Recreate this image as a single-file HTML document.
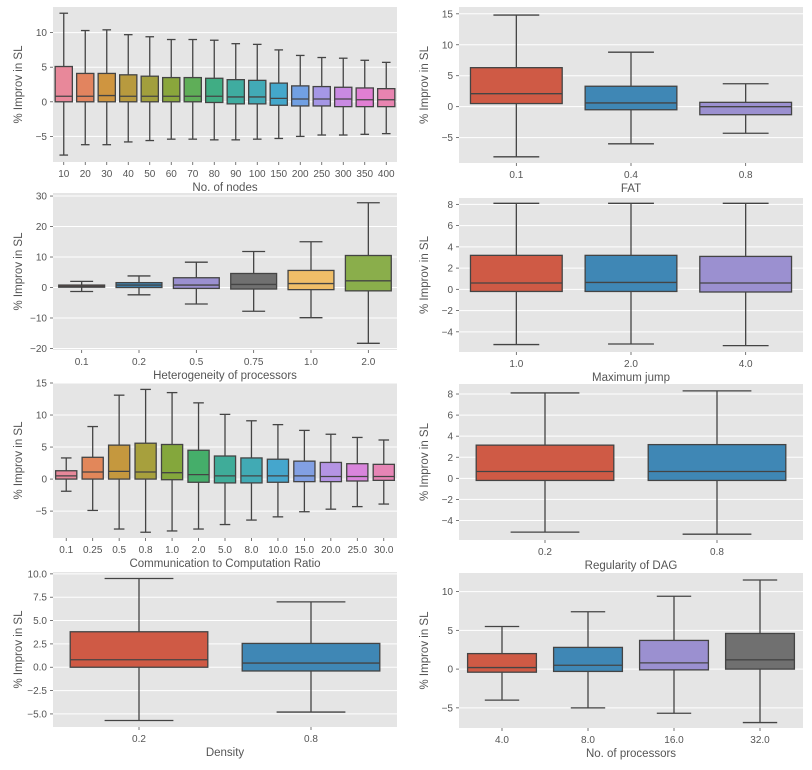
<!DOCTYPE html>
<html><head><meta charset="utf-8"><style>
html,body{margin:0;padding:0;background:#fff;}
svg text{font-family:"Liberation Sans","DejaVu Sans",sans-serif;}
</style></head>
<body>
<svg id="fig" width="812" height="765" viewBox="0 0 812 765" xmlns="http://www.w3.org/2000/svg"></svg>
<script>
// Panel 1: No. of nodes
const p1Cats = ["10","20","30","40","50","60","70","80","90","100","150","200","250","300","350","400"];
const p1Q1 = [0,0,0,0,0,0,0,-0.1,-0.3,-0.3,-0.5,-0.6,-0.6,-0.7,-0.7,-0.7];
const p1Med = [0.8,0.8,0.9,0.8,0.8,0.8,0.8,0.8,0.7,0.7,0.5,0.4,0.4,0.4,0.3,0.3];
const p1Q3 = [5.1,4.1,4.1,3.9,3.7,3.5,3.5,3.4,3.2,3.1,2.7,2.3,2.2,2.1,2.0,1.9];
const p1Lo = [-7.7,-6.2,-6.2,-5.8,-5.6,-5.4,-5.4,-5.5,-5.5,-5.4,-5.3,-5.0,-4.8,-4.8,-4.7,-4.6];
const p1Hi = [12.8,10.3,10.4,9.7,9.4,9.0,9.0,8.9,8.4,8.3,7.5,6.7,6.4,6.3,6.0,5.7];
const p1Ticks = [-5,0,5,10];
const p1Colors = ["#e8889a","#e2845f","#cf9540","#b89a3e","#a29f3d","#8aa63c","#5fae58","#40ad84","#3faca0","#42aab6","#44a7cb","#71a0e3","#a597e6","#c98ae2","#e17fd3","#e884b0"];

// Panel 2: FAT
const p2Cats = ["0.1","0.4","0.8"];
const p2Q1 = [0.5,-0.5,-1.3];
const p2Med = [2.1,0.6,0.0];
const p2Q3 = [6.3,3.3,0.7];
const p2Lo = [-8.1,-6.0,-4.3];
const p2Hi = [14.8,8.8,3.7];
const p2Ticks = [-5,0,5,10,15];

// Panel 3: Heterogeneity
const p3Cats = ["0.1","0.2","0.5","0.75","1.0","2.0"];
const p3Q1 = [0.1,0,-0.3,-0.5,-0.7,-1.1];
const p3Med = [0.4,0.8,0.8,1.0,1.3,2.2];
const p3Q3 = [0.8,1.6,3.2,4.6,5.6,10.5];
const p3Lo = [-1.3,-2.4,-5.4,-7.8,-9.9,-18.3];
const p3Hi = [2.0,3.8,8.3,11.8,15.0,27.8];
const p3Ticks = [-20,-10,0,10,20,30];

// Panel 4: Maximum jump
const p4Cats = ["1.0","2.0","4.0"];
const p4Q1 = [-0.2,-0.2,-0.25];
const p4Med = [0.6,0.65,0.6];
const p4Q3 = [3.2,3.2,3.1];
const p4Lo = [-5.2,-5.15,-5.3];
const p4Hi = [8.1,8.1,8.1];
const p4Ticks = [-4,-2,0,2,4,6,8];

// Panel 5: CCR
const p5Cats = ["0.1","0.25","0.5","0.8","1.0","2.0","5.0","8.0","10.0","15.0","20.0","25.0","30.0"];
const p5Q1 = [0,0,0,0,-0.1,-0.5,-0.6,-0.6,-0.5,-0.4,-0.4,-0.3,-0.2];
const p5Med = [0.5,1.1,1.2,1.1,1.0,0.7,0.5,0.5,0.5,0.5,0.4,0.4,0.4];
const p5Q3 = [1.3,3.4,5.3,5.6,5.4,4.5,3.6,3.3,3.1,2.8,2.6,2.4,2.3];
const p5Lo = [-1.9,-4.9,-7.8,-8.3,-8.1,-7.8,-7.1,-6.4,-5.9,-5.1,-4.7,-4.3,-3.9];
const p5Hi = [3.3,8.2,13.1,14.0,13.5,11.9,10.1,9.1,8.5,7.6,7.0,6.5,6.1];
const p5Ticks = [-5,0,5,10,15];
const p5Colors = ["#e8889a","#e2875a","#c5983e","#a7a03d","#84a73c","#45ae6a","#3fac99","#41aab4","#45a6cd","#82a0e3","#b494e4","#d985dc","#e685b5"];

// Panel 6: Regularity
const p6Cats = ["0.2","0.8"];
const p6Q1 = [-0.2,-0.2];
const p6Med = [0.65,0.65];
const p6Q3 = [3.15,3.2];
const p6Lo = [-5.1,-5.3];
const p6Hi = [8.1,8.3];
const p6Ticks = [-4,-2,0,2,4,6,8];

// Panel 7: Density
const p7Cats = ["0.2","0.8"];
const p7Q1 = [0,-0.4];
const p7Med = [0.8,0.45];
const p7Q3 = [3.8,2.55];
const p7Lo = [-5.7,-4.8];
const p7Hi = [9.5,7.0];
const p7Ticks = [-5,-2.5,0,2.5,5,7.5,10];

// Panel 8: No. of processors
const p8Cats = ["4.0","8.0","16.0","32.0"];
const p8Q1 = [-0.4,-0.3,-0.1,0];
const p8Med = [0.2,0.5,0.8,1.2];
const p8Q3 = [2.0,2.8,3.7,4.6];
const p8Lo = [-4.0,-5.0,-5.7,-6.9];
const p8Hi = [5.5,7.4,9.4,11.5];
const p8Ticks = [-5,0,5,10];

const ggColors = ["#cf5a45","#3f87b5","#9b90d0","#707070","#f0be68","#8aae4b"];
const NS = "http://www.w3.org/2000/svg";
const svg = document.getElementById("fig");

function mk(tag, attrs, parent){
  const e = document.createElementNS(NS, tag);
  for (const k in attrs) e.setAttribute(k, attrs[k]);
  (parent||svg).appendChild(e);
  return e;
}

function panel(id, box, ymin, ymax, cats, q1, med, q3, lo, hi, ticks, colors, xlabel, tickFmt){
  const g = mk("g", {});
  
  
  const [x0,y0,x1,y1] = box;
  const ys = v => y1 - (v - ymin) / (ymax - ymin) * (y1 - y0);
  const step = (x1 - x0) / cats.length;
  const xs = i => x0 + step * (i + 0.5);
  const bg = mk("rect", {x:x0, y:y0, width:x1-x0, height:y1-y0, fill:"#e5e5e5"}, g);
  
  
  ticks.forEach(t => {
    const y = ys(t);
    const gl = mk("line", {x1:x0, x2:x1, y1:y, y2:y, stroke:"#fff", "stroke-width":1}, g);
    
    
    mk("line", {x1:x0-3, x2:x0, y1:y, y2:y, stroke:"#555", "stroke-width":0.8}, g);
    const tl = mk("text", {x:x0-6, y:y+3.5, "text-anchor":"end", "font-size":10, fill:"#555"}, g);
    tl.textContent = tickFmt ? tickFmt(t) : (t < 0 ? "\u2212" + Math.abs(t) : String(t));
    
    
  });
  const bw = step * 0.8;
  cats.forEach((c, i) => {
    const cx = xs(i);
    mk("line", {x1:cx, x2:cx, y1:y1, y2:y1+3, stroke:"#555", "stroke-width":0.8}, g);
    const xl = mk("text", {x:cx, y:y1+15, "text-anchor":"middle", "font-size":10, fill:"#555"}, g);
    xl.textContent = c;
    
    
    const bg2 = mk("g", {}, g);
    
    
    const st = {stroke:"#444", "stroke-width":1.3};
    mk("line", Object.assign({x1:cx, x2:cx, y1:ys(hi[i]), y2:ys(q3[i])}, st), bg2);
    mk("line", Object.assign({x1:cx, x2:cx, y1:ys(q1[i]), y2:ys(lo[i])}, st), bg2);
    mk("line", Object.assign({x1:cx-bw/4, x2:cx+bw/4, y1:ys(hi[i]), y2:ys(hi[i])}, st), bg2);
    mk("line", Object.assign({x1:cx-bw/4, x2:cx+bw/4, y1:ys(lo[i]), y2:ys(lo[i])}, st), bg2);
    const top = ys(q3[i]), bot = ys(q1[i]);
    mk("rect", Object.assign({x:cx-bw/2, y:top, width:bw, height:Math.max(bot-top,0.5), fill:colors[i % colors.length]}, st), bg2);
    mk("line", Object.assign({x1:cx-bw/2, x2:cx+bw/2, y1:ys(med[i]), y2:ys(med[i])}, st), bg2);
  });
  const xt = mk("text", {x:(x0+x1)/2, y:y1+29, "text-anchor":"middle", "font-size":11.5, fill:"#555"}, g);
  xt.textContent = xlabel;
  
  
  const yx = x0 - 31, yy = (y0+y1)/2;
  const yt = mk("text", {x:yx, y:yy, "text-anchor":"middle", "font-size":11.5, fill:"#555", transform:"rotate(-90 "+yx+" "+yy+")"}, g);
  yt.textContent = "% Improv in SL";
  
  
}

panel("panel-nodes", [53,7,397,162], -8.7, 13.7, p1Cats, p1Q1, p1Med, p1Q3, p1Lo, p1Hi, p1Ticks, p1Colors, "No. of nodes");
panel("panel-fat", [459,7,803,163], -9.1, 16.1, p2Cats, p2Q1, p2Med, p2Q3, p2Lo, p2Hi, p2Ticks, ggColors, "FAT");
panel("panel-heterogeneity", [53,193,397,350], -20.5, 31, p3Cats, p3Q1, p3Med, p3Q3, p3Lo, p3Hi, p3Ticks, ggColors, "Heterogeneity of processors");
panel("panel-max-jump", [459,198,803,352], -5.9, 8.6, p4Cats, p4Q1, p4Med, p4Q3, p4Lo, p4Hi, p4Ticks, ggColors, "Maximum jump");
panel("panel-ccr", [53,383,397,538], -9.2, 15.0, p5Cats, p5Q1, p5Med, p5Q3, p5Lo, p5Hi, p5Ticks, p5Colors, "Communication to Computation Ratio");
panel("panel-regularity", [459,384,803,540], -5.85, 8.95, p6Cats, p6Q1, p6Med, p6Q3, p6Lo, p6Hi, p6Ticks, ggColors, "Regularity of DAG");
panel("panel-density", [53,572,397,727], -6.4, 10.2, p7Cats, p7Q1, p7Med, p7Q3, p7Lo, p7Hi, p7Ticks, ggColors, "Density",
  t => (t < 0 ? "\u2212" : "") + Math.abs(t).toFixed(1));
panel("panel-processors", [459,573,803,728], -7.6, 12.4, p8Cats, p8Q1, p8Med, p8Q3, p8Lo, p8Hi, p8Ticks, ggColors, "No. of processors");
</script>
</body></html>
